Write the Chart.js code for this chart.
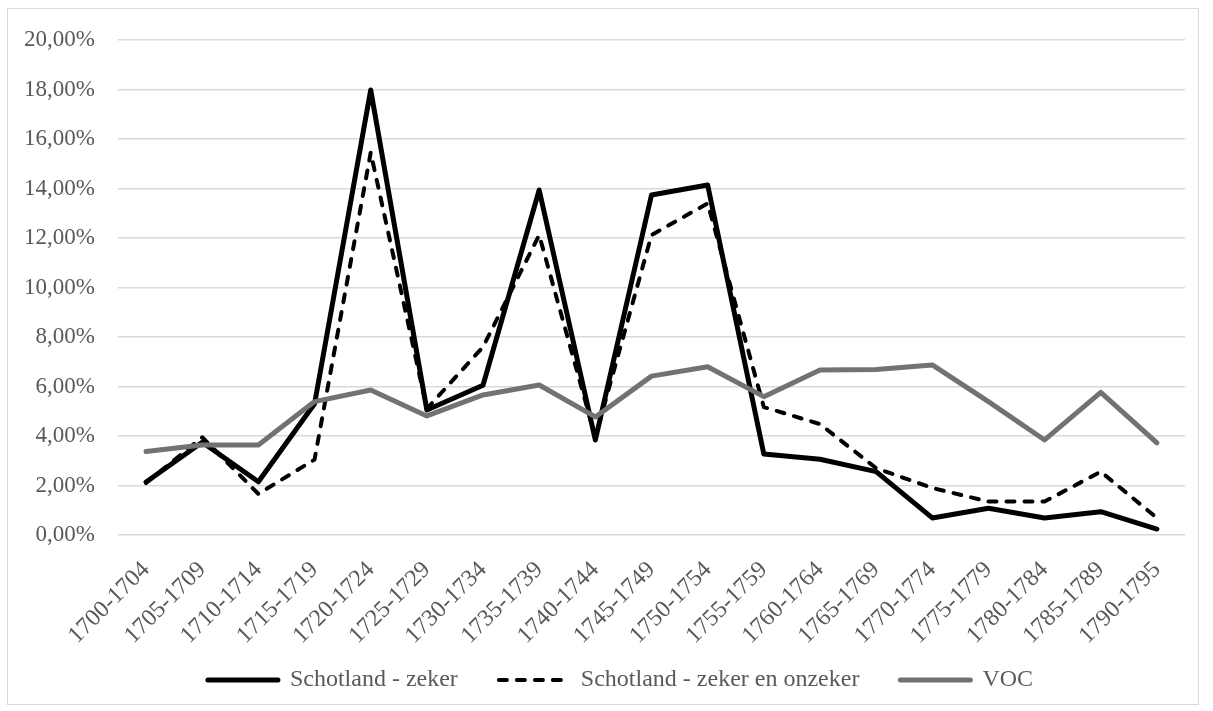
<!DOCTYPE html>
<html lang="nl">
<head>
    <meta charset="UTF-8">
    <title>Schotland - VOC</title>
    <script src="https://cdn.jsdelivr.net/npm/chart.js@4.4.1/dist/chart.umd.min.js"></script>
    <style>
        body { margin: 0; background: #fff; }
        #frame { position: absolute; left: 7px; top: 8px; width: 1190px; height: 695px; border: 1px solid #d9d9d9; }
        #wrap { position: absolute; left: 0; top: 0; width: 1213px; height: 711px; }
    </style>
</head>
<body>
<div id="frame"></div>
<div id="wrap"><canvas id="myChart" width="1213" height="711"></canvas></div>
<script>
    // perioden
    var categories = ['1700-1704', '1705-1709', '1710-1714', '1715-1719', '1720-1724', '1725-1729', '1730-1734',
        '1735-1739', '1740-1744', '1745-1749', '1750-1754', '1755-1759', '1760-1764', '1765-1769',
        '1770-1774', '1775-1779', '1780-1784', '1785-1789', '1790-1795'];

    // percentages
    var zeker = [2.14, 3.75, 2.15, 5.3, 17.98, 5.05, 6.05, 13.94, 3.84, 13.74, 14.14, 3.27, 3.06, 2.56, 0.69, 1.08, 0.69, 0.94, 0.24];
    var zekerOnzeker = [2.1, 3.95, 1.66, 3.05, 15.45, 5.1, 7.6, 12.12, 3.95, 12.12, 13.4, 5.17, 4.48, 2.7, 1.9, 1.35, 1.35, 2.56, 0.69];
    var voc = [3.37, 3.64, 3.64, 5.39, 5.86, 4.81, 5.66, 6.06, 4.77, 6.42, 6.8, 5.59, 6.67, 6.69, 6.87, 5.39, 3.84, 5.76, 3.72];

    var yTicks = [0, 2, 4, 6, 8, 10, 12, 14, 16, 18, 20];

    var family = '"Liberation Serif", "Times New Roman", serif';
    var textColor = '#595959';

    // legend: fixed height, then its top moved up a bit and shifted right
    var legendFix = {
        id: 'legendFix',
        beforeInit: function (chart) {
            var fit = chart.legend.fit;
            chart.legend.fit = function () {
                fit.call(this);
                this.height = 56;
            };
        },
        afterLayout: function (chart) {
            var lg = chart.legend;
            lg.left += 28;
            lg.right += 28;
            lg.top -= 18;
        }
    };

    var ctx = document.getElementById('myChart').getContext('2d');
    var myChart = new Chart(ctx, {
        type: 'line',
        data: {
            labels: categories,
            datasets: [
                {
                    label: 'Schotland - zeker',
                    data: zeker,
                    borderColor: '#000000',
                    backgroundColor: '#000000',
                    borderWidth: 5,
                    borderCapStyle: 'round',
                    borderJoinStyle: 'round',
                    pointRadius: 0,
                    tension: 0,
                    fill: false,
                    order: 2
                },
                {
                    label: 'Schotland - zeker en onzeker',
                    data: zekerOnzeker,
                    borderColor: '#000000',
                    backgroundColor: '#000000',
                    borderWidth: 4,
                    borderDash: [8, 10],
                    borderCapStyle: 'round',
                    borderJoinStyle: 'round',
                    pointRadius: 0,
                    tension: 0,
                    fill: false,
                    order: 1
                },
                {
                    label: 'VOC',
                    data: voc,
                    borderColor: '#767171',
                    backgroundColor: '#767171',
                    borderWidth: 5,
                    borderCapStyle: 'round',
                    borderJoinStyle: 'round',
                    pointRadius: 0,
                    tension: 0,
                    fill: false,
                    order: 0
                }
            ]
        },
        options: {
            responsive: false,
            animation: false,
            layout: { padding: { left: 0, right: 28, top: 40, bottom: 10 } },
            plugins: {
                tooltip: { enabled: false },
                legend: {
                    position: 'bottom',
                    labels: {
                        usePointStyle: true,
                        pointStyle: 'line',
                        pointStyleWidth: 70,
                        padding: 41,
                        color: textColor,
                        font: { family: family, size: 24 },
                        sort: function (a, b) { return a.datasetIndex - b.datasetIndex; },
                        generateLabels: function (chart) {
                            var items = Chart.defaults.plugins.legend.labels.generateLabels(chart);
                            items.forEach(function (it) {
                                var ds = chart.data.datasets[it.datasetIndex];
                                it.lineDash = ds.borderDash || [];
                                it.lineWidth = ds.borderWidth;
                                it.strokeStyle = ds.borderColor;
                                it.lineCap = 'round';
                            });
                            return items;
                        }
                    }
                }
            },
            scales: {
                x: {
                    offset: true,
                    grid: { display: false, drawTicks: false },
                    border: { display: false },
                    ticks: {
                        color: textColor,
                        font: { family: family, size: 24 },
                        maxRotation: 45,
                        minRotation: 45,
                        autoSkip: false,
                        padding: 21
                    },
                    afterFit: function (scale) { scale.height = 110; }
                },
                y: {
                    min: 0,
                    max: 20,
                    afterBuildTicks: function (scale) {
                        scale.ticks = yTicks.map(function (v) { return { value: v }; });
                    },
                    grid: { color: '#d9d9d9', lineWidth: 1.5, drawTicks: false },
                    border: { display: false },
                    ticks: {
                        color: textColor,
                        font: { family: family, size: 23 },
                        padding: 23,
                        callback: function (value) { return value.toFixed(2).replace('.', ',') + '%'; }
                    },
                    afterFit: function (scale) { scale.width = 118; }
                }
            }
        },
        plugins: [legendFix]
    });
</script>
</body>
</html>
